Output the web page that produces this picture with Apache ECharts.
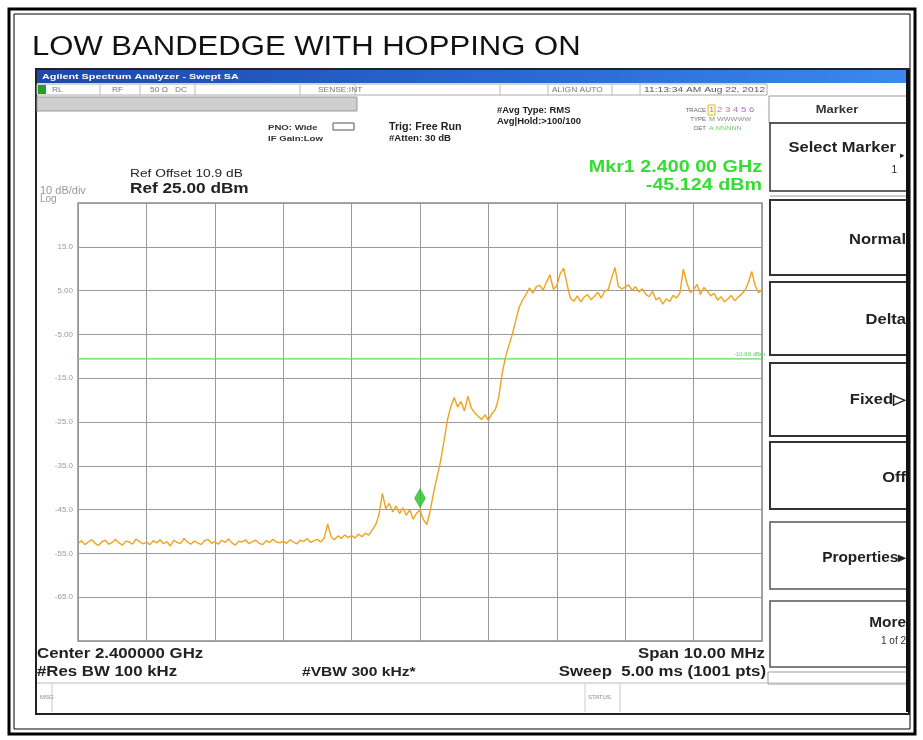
<!DOCTYPE html>
<html>
<head>
<meta charset="utf-8">
<script src="https://cdn.jsdelivr.net/npm/echarts@6/dist/echarts.min.js"></script>
<style>
html,body{margin:0;padding:0;background:#fff;}
#c{width:923px;height:740px;}
</style>
</head>
<body>
<div id="c"></div>
<script>
// Frequency axis (MHz): 2395 .. 2405, trace read every 0.05 MHz
const startMHz = 2395;
const stepMHz = 0.05;
// Trace levels (dBm), 1 MHz per row
const trace0 = [-52.8,-52.1,-53.0,-52.4,-51.9,-52.7,-53.2,-52.3,-52.0,-52.9,-52.5,-51.8,-52.6,-53.1,-52.2,-52.4,-52.9,-51.7,-52.3,-52.8];
const trace1 = [-52.4,-53.0,-52.1,-52.6,-51.9,-52.8,-52.3,-53.3,-52.0,-52.5,-52.7,-51.6,-52.4,-52.9,-52.2,-52.6,-53.0,-52.1,-51.8,-52.7];
const trace2 = [-52.3,-52.9,-52.0,-52.5,-51.7,-52.6,-53.1,-52.2,-52.4,-51.9,-52.8,-52.3,-52.0,-52.7,-53.0,-52.1,-52.5,-51.8,-52.4,-52.6];
const trace3 = [-52.2,-52.7,-51.9,-52.4,-52.8,-52.0,-52.3,-51.6,-52.5,-52.1,-51.8,-52.4,-51.5,-48.3,-51.2,-51.9,-51.0,-51.6,-50.8,-51.4];
const trace4 = [-50.9,-51.5,-50.6,-51.2,-50.4,-50.8,-49.7,-48.5,-46.2,-41.3,-44.8,-43.6,-45.5,-44.2,-45.9,-44.6,-46.3,-45.0,-47.2,-45.8];
const trace5 = [-45.124,-47.3,-48.4,-45.2,-41.0,-37.5,-34.0,-29.5,-24.6,-21.5,-19.4,-21.6,-20.3,-22.5,-19.1,-21.8,-22.9,-23.7,-24.4,-23.4];
const trace6 = [-24.6,-23.1,-22.2,-19.5,-14.0,-10.2,-7.5,-5.0,-1.8,1.2,2.9,4.1,5.6,4.4,5.9,6.2,5.1,7.0,8.6,5.3];
const trace7 = [6.1,8.9,10.1,6.4,3.2,2.6,3.8,2.4,3.5,4.1,2.9,3.7,4.6,3.3,4.9,5.2,7.8,10.3,6.0,5.4];
const trace8 = [5.8,6.3,5.1,5.9,4.7,5.4,4.2,3.6,4.8,2.9,3.4,1.9,3.1,2.5,3.9,3.3,4.5,9.9,6.8,4.6];
const trace9 = [5.2,6.4,4.1,5.7,4.9,3.8,4.4,2.8,3.6,2.4,3.1,3.9,2.7,3.5,4.2,5.0,6.8,9.4,6.1,4.5,5.2];

// Axis settings / ticks
const yMin = -75, yMax = 25, yStep = 10;
const xMin = 2395, xMax = 2405, xStep = 1;
// Marker and display line
const markerFreq = 2400.0;
const markerLevel = -45.124;
const displayLine = -10.6;

const levels = [].concat(trace0,trace1,trace2,trace3,trace4,trace5,trace6,trace7,trace8,trace9);
const traceData = levels.map((v,i)=>[+(startMHz + i*stepMHz).toFixed(2), v]);

const FF = '"Liberation Sans", Arial, sans-serif';
function T(x,y,text,opt){
  opt = opt||{};
  return {type:'text', x:x, y:y, z:10, scaleX:opt.sx||1,
    style:{text:text, fill:opt.fill||'#111',
    font:(opt.weight||'normal')+' '+(opt.size||10)+'px '+FF,
    textAlign:opt.align||'left', textVerticalAlign:'middle'}};
}
function R(x,y,w,h,opt){
  opt = opt||{};
  return {type:'rect', z:opt.z||5, shape:{x:x,y:y,width:w,height:h},
    style:{fill:opt.fill||'none', stroke:opt.stroke||'none', lineWidth:opt.lw||1}};
}
function L(x1,y1,x2,y2,c,w){
  return {type:'line', z:6, shape:{x1:x1,y1:y1,x2:x2,y2:y2}, style:{stroke:c||'#888', lineWidth:w||1}};
}

const g = [];
// outer page frame
g.push(R(9,9,906,725,{stroke:'#000',lw:3}));
g.push(R(14,14,896,715,{stroke:'#000',lw:1}));
g.push(T(32,48,'LOW BANDEDGE WITH HOPPING ON',{size:27,sx:1.15}));
// instrument screenshot frame
g.push(R(36,69,873,645,{stroke:'#222',lw:2}));
g.push({type:'rect', z:4, shape:{x:37,y:70,width:871,height:13},
  style:{fill:new echarts.graphic.LinearGradient(0,0,1,0,[{offset:0,color:'#1e48aa'},{offset:0.6,color:'#2c6ad8'},{offset:1,color:'#3c88ee'}])}});
g.push(T(42,77,'Agilent Spectrum Analyzer - Swept SA',{size:8,fill:'#fff',weight:'bold',sx:1.35}));
// status row
g.push(R(37,84,730,11,{stroke:'#aaa'}));
g.push(R(38,85,8,9,{fill:'#2a9a2a'}));
[100,140,195,300,355,500,548,612,640].forEach(x=>g.push(L(x,84,x,95,'#bbb',1)));
g.push(T(52,90,'RL',{size:7,fill:'#777',sx:1.2}));
g.push(T(112,90,'RF',{size:7,fill:'#777',sx:1.2}));
g.push(T(150,90,'50 Ω   DC',{size:7,fill:'#777',sx:1.2}));
g.push(T(318,90,'SENSE:INT',{size:7,fill:'#777',sx:1.2}));
g.push(T(552,90,'ALIGN AUTO',{size:7,fill:'#777',sx:1.2}));
g.push(T(644,90,'11:13:34 AM Aug 22, 2012',{size:8,fill:'#555',sx:1.28}));
// grey bar
g.push(R(37,97,320,14,{fill:'#cfcfcf',stroke:'#999'}));
// header texts
g.push(T(268,128,'PNO: Wide',{size:8,weight:'bold',fill:'#333',sx:1.2}));
g.push(T(268,139,'IF Gain:Low',{size:8,weight:'bold',fill:'#333',sx:1.2}));
g.push(R(333,123,21,7,{stroke:'#555'}));
g.push(T(389,127,'Trig: Free Run',{size:10,weight:'bold',fill:'#222',sx:1.07}));
g.push(T(389,139,'#Atten: 30 dB',{size:9,weight:'bold',fill:'#222',sx:1.07}));
g.push(T(497,111,'#Avg Type: RMS',{size:9,weight:'bold',fill:'#222',sx:1.05}));
g.push(T(497,122,'Avg|Hold:>100/100',{size:9,weight:'bold',fill:'#222',sx:1.05}));
g.push(T(706,110,'TRACE',{size:6,fill:'#666',align:'right'}));
g.push(T(709,110,'1 2 3 4 5 6',{size:8,fill:'#b070d0',sx:1.2}));
g.push(R(708,105,7,10,{stroke:'#e0c000'}));
g.push(T(706,119,'TYPE',{size:6,fill:'#666',align:'right'}));
g.push(T(709,119,'M WWWWW',{size:6,fill:'#888',sx:1.2}));
g.push(T(706,128,'DET',{size:6,fill:'#666',align:'right'}));
g.push(T(709,128,'A NNNNN',{size:6,fill:'#66cc66',sx:1.2}));
g.push(T(130,174,'Ref Offset 10.9 dB',{size:11,fill:'#222',sx:1.25}));
g.push(T(130,189,'Ref 25.00 dBm',{size:14,weight:'bold',fill:'#222',sx:1.23}));
g.push(T(40,191,'10 dB/div',{size:10,fill:'#999',sx:1.1}));
g.push(T(40,199,'Log',{size:10,fill:'#999'}));
g.push(T(762,167,'Mkr1 2.400 00 GHz',{size:17,weight:'bold',fill:'#33dd33',align:'right',sx:1.16}));
g.push(T(762,185,'-45.124 dBm',{size:17,weight:'bold',fill:'#33dd33',align:'right',sx:1.16}));
// bottom texts
g.push(T(37,654,'Center 2.400000 GHz',{size:14,weight:'bold',fill:'#222',sx:1.2}));
g.push(T(37,672,'#Res BW 100 kHz',{size:14,weight:'bold',fill:'#222',sx:1.2}));
g.push(T(302,672,'#VBW 300 kHz*',{size:13,weight:'bold',fill:'#222',sx:1.2}));
g.push(T(765,654,'Span 10.00 MHz',{size:14,weight:'bold',fill:'#222',align:'right',sx:1.2}));
g.push(T(766,672,'Sweep  5.00 ms (1001 pts)',{size:14,weight:'bold',fill:'#222',align:'right',sx:1.2}));
g.push(L(37,683,908,683,'#bbb',1));
g.push(L(52,684,52,712,'#ccc',1));
g.push(L(585,684,585,712,'#ccc',1));
g.push(L(620,684,620,712,'#ccc',1));
g.push(T(40,697,'MSG',{size:6,fill:'#888'}));
g.push(T(588,697,'STATUS',{size:6,fill:'#888'}));
// softkey panel
g.push(R(769,96,138,27,{stroke:'#999'}));
g.push(T(837,110,'Marker',{size:10,weight:'bold',fill:'#333',align:'center',sx:1.3}));
g.push(R(770,123,137,68,{stroke:'#333',lw:1.5}));
g.push(T(896,148,'Select Marker',{size:14,weight:'bold',fill:'#222',align:'right',sx:1.18}));
g.push(T(905,156,'▸',{size:9,fill:'#222',align:'right'}));
g.push(T(897,170,'1',{size:10,fill:'#222',align:'right'}));
g.push(L(770,196,907,196,'#999',1));
const keys = [
  {t:200,b:275,label:'Normal',y:240},
  {t:282,b:355,label:'Delta',y:320},
  {t:363,b:436,label:'Fixed▷',y:400},
  {t:442,b:509,label:'Off',y:478}
];
keys.forEach(k=>{
  g.push(R(770,k.t,137,k.b-k.t,{stroke:'#333',lw:2}));
  g.push(T(906,k.y,k.label,{size:14,weight:'bold',fill:'#222',align:'right',sx:1.18}));
});
g.push(R(770,522,137,67,{stroke:'#555',lw:1.5}));
g.push(T(906,558,'Properties▸',{size:14,weight:'bold',fill:'#222',align:'right',sx:1.1}));
g.push(R(770,601,137,66,{stroke:'#555',lw:1.5}));
g.push(T(906,623,'More',{size:14,weight:'bold',fill:'#222',align:'right',sx:1.1}));
g.push(T(906,641,'1 of 2',{size:10,fill:'#333',align:'right'}));
g.push(R(768,672,140,12,{stroke:'#999'}));
g.push(L(908,70,908,712,'#111',4));

const chart = echarts.init(document.getElementById('c'), null, {renderer:'canvas'});
chart.setOption({
  animation:false,
  backgroundColor:'#fff',
  graphic:g,
  grid:{left:78, top:203, width:684, height:438, show:true, borderColor:'#8a8a8a', borderWidth:1.5},
  xAxis:{type:'value', min:xMin, max:xMax, interval:xStep,
    axisLine:{show:false}, axisTick:{show:false}, axisLabel:{show:false},
    splitLine:{show:true, lineStyle:{color:'#9a9a9a', width:1}}},
  yAxis:{type:'value', min:yMin, max:yMax, interval:yStep,
    axisLine:{show:false}, axisTick:{show:false},
    axisLabel:{color:'#9a9a9a', fontSize:8, fontFamily:FF, margin:5,
      formatter:v=> (v===yMax||v===yMin)?'':(Math.abs(v)<10? v.toFixed(2): v.toFixed(1))},
    splitLine:{show:true, lineStyle:{color:'#9a9a9a', width:1}}},
  series:[
    {type:'line', data:[[xMin, displayLine],[xMax, displayLine]],
     showSymbol:false, symbol:'none', z:2, silent:true,
     lineStyle:{color:'#5fdc5f', width:1.2},
     endLabel:{show:true, formatter:displayLine.toFixed(2)+' dBm', color:'#55cc55', fontSize:6, offset:[-36,-5]}},
    {type:'line', data:traceData, showSymbol:false, z:3,
     lineStyle:{color:'#F0A31E', width:1.4}},
    {type:'scatter', data:[[markerFreq, markerLevel]], symbol:'diamond', symbolSize:[11,19], symbolOffset:[0,-12], z:4,
     itemStyle:{color:'#22c422', borderColor:'#119911', borderWidth:0.5}}
  ]
});
</script>
</body>
</html>
